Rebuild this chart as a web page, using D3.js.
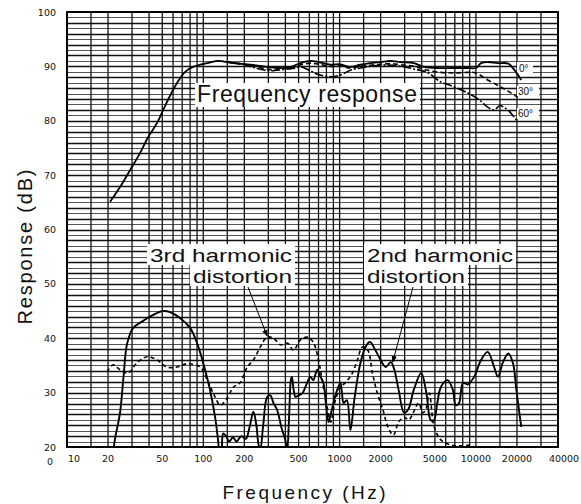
<!DOCTYPE html>
<html>
<head>
<meta charset="utf-8">
<script src="https://cdn.jsdelivr.net/npm/d3@7"></script>
<style>
  body { margin: 0; background: #fff; }
  text { font-family: "Liberation Sans", Arial, sans-serif; fill: #111; }
  .tick-label { font-family: "DejaVu Sans", sans-serif; font-size: 9.5px; }
</style>
</head>
<body>
<div id="chart"></div>
<script>
// frequency response, [Hz, dB]
var resp0 = [[20.7,65.1],[24.5,67.8],[29,70.9],[34.4,74.1],[39.4,77.0],[45.8,79.6],[50.8,82.0],[57,84.6],[64,86.9],[73.6,89.0],[84,89.9],[107,90.6],[127,91.0],[166,90.6],[222,90.3],[294,89.9],[388,89.7],[437,89.9],[516,90.6],[610,91.0],[700,90.8],[860,90.3],[1000,90.4],[1200,89.9],[1420,90.3],[1670,90.6],[2000,90.8],[2370,91.0],[2800,90.8],[3500,90.6],[4170,89.9],[4940,89.7],[6900,89.7],[8700,89.7],[10000,89.7],[10900,90.6],[12200,90.8],[14500,90.6],[17300,90.5],[19200,89.3],[21500,87.5]];
var resp30 = [[150,90.8],[200,90.4],[250,89.9],[310,89.4],[370,89.6],[450,89.8],[520,90.3],[610,90.6],[700,90.4],[860,90.0],[1000,90.1],[1200,89.7],[1420,90.0],[1670,90.2],[2000,90.4],[2370,90.5],[2800,90.3],[3500,90.0],[4400,89.3],[5530,88.9],[7000,88.8],[8700,88.9],[10000,88.8],[12200,87.5],[15000,86.3],[17300,85.4],[20300,84.3]];
var resp60 = [[150,90.8],[200,90.3],[250,89.6],[300,89.2],[350,89.3],[450,89.6],[520,89.9],[610,89.2],[700,88.5],[860,88.1],[1013,88.4],[1200,89.3],[1420,89.7],[1670,90.0],[2000,90.2],[2500,90.2],[3000,89.9],[3500,89.5],[4400,88.9],[5530,87.1],[6200,86.7],[8700,85.1],[10500,83.9],[12200,82.5],[13600,82.0],[15000,82.8],[16000,82.5],[17300,81.9],[20300,79.8]];

// distortion, [Hz, dB]
var harm2 = [[21.8,19],[22.5,21.5],[24.5,26.3],[26,33],[27.6,39.0],[30.6,41.9],[36.2,43.2],[42.8,44.3],[50.8,45.0],[57,44.8],[67.7,43.7],[80,41.9],[90,39.1],[100,35.4],[112,30.5],[122,25.5],[129,20.7],[132,18],[136,19],[140,22.5],[147,22.0],[155,21.0],[165,21.8],[175,21.0],[190,22.0],[205,21.5],[220,24],[233,26.5],[245,24],[254,20.5],[262,19.5],[275,24],[294,29.2],[310,29.5],[328,28],[348,26.8],[375,23.5],[400,21.3],[412,19],[425,25],[440,32.5],[447,32.9],[460,30.5],[475,29.2],[500,29.5],[534,29.9],[560,31.0],[610,32.9],[640,32.3],[685,34.2],[720,33],[760,31.8],[800,27],[830,24.6],[860,26],[900,28.1],[960,30.5],[1013,31.8],[1040,30],[1070,28.1],[1130,28.6],[1200,23.1],[1290,29.2],[1420,35.4],[1550,38.4],[1670,39.3],[1830,37.8],[2000,36.0],[2180,34.7],[2370,35.6],[2500,34.5],[2710,30.5],[2970,26.3],[3200,27],[3500,30.5],[3970,33.6],[4330,29.9],[4650,25.0],[4900,24.8],[5200,28],[5530,31.0],[6200,32.3],[6770,30.5],[7100,27.7],[7500,28],[8040,31.8],[8700,31.5],[9700,32.9],[10900,36.0],[12200,37.5],[13600,34.7],[14500,32.9],[15800,35.6],[17300,37.2],[18700,35.4],[19800,30.5],[21500,23.7]];
var harm3 = [[19.7,33.8],[21.8,35.1],[24.5,34.2],[28,33.6],[32.7,35.5],[38.7,36.6],[45.8,36.0],[54,34.7],[64,34.7],[76,35.3],[95,34.7],[107,32.3],[122,29.2],[133,27.7],[150,29.0],[166,31.0],[186,31.8],[210,34.7],[233,36.0],[262,38.4],[294,40.2],[328,40.0],[368,38.8],[415,39.1],[458,37.8],[516,39.7],[580,40.2],[640,39.3],[700,36.0],[750,31.8],[810,27.4],[860,24.6],[930,28.6],[1013,31.0],[1100,31.8],[1240,33.6],[1350,36.0],[1470,38.4],[1610,37.8],[1740,33.6],[1890,29.9],[2080,26.8],[2260,23.7],[2480,22.2],[2710,24.6],[2970,25.5],[3220,25.0],[3500,26.5],[3800,28.1],[4080,26.3],[4300,27],[4550,29.9],[4940,23.7],[5530,21.3],[6500,20.4],[7500,20.2],[9100,20.3],[10000,19.9]];

var xTicks = [10, 20, 50, 100, 200, 500, 1000, 2000, 5000, 10000, 20000, 40000];
var yTicks = [20, 30, 40, 50, 60, 70, 80, 90, 100];
var gridMult = [1, 1.5, 2, 3, 4, 5, 6, 7, 8, 9];

var svgWidth = 581, svgHeight = 504;
var margin = { top: 12, left: 67, right: 23, bottom: 57 };
var w = svgWidth - margin.left - margin.right;
var h = svgHeight - margin.top - margin.bottom;

var svg = d3.select("#chart").append("svg")
    .attr("width", svgWidth)
    .attr("height", svgHeight);

var xScale = d3.scaleLog().domain([10, 40000]).range([0, w]);
var yScale = d3.scaleLinear().domain([20, 100]).range([h, 0]);

var g = svg.append("g")
    .attr("transform", `translate(${margin.left}, ${margin.top})`);

g.append("clipPath").attr("id", "plotclip")
  .append("rect").attr("x", 0).attr("y", 0).attr("width", w).attr("height", h);

// log paper grid
var vLines = [];
[10, 100, 1000, 10000].forEach(function (dec) {
    gridMult.forEach(function (m) {
        var f = dec * m;
        if (f > 10 && f < 40000) vLines.push(f);
    });
});

var hLines = d3.range(21, 100, 1);

g.selectAll(".hgrid").data(hLines).enter().append("line")
    .attr("x1", 0).attr("x2", w)
    .attr("y1", d => Math.round(yScale(d)) + 0.5).attr("y2", d => Math.round(yScale(d)) + 0.5)
    .attr("stroke", (d, i) => i % 2 ? "#111" : "#555")
    .attr("stroke-width", (d, i) => i % 2 ? 1.4 : 1.1);

g.selectAll(".vgrid").data(vLines).enter().append("line")
    .attr("x1", d => xScale(d)).attr("x2", d => xScale(d))
    .attr("y1", 0).attr("y2", h)
    .attr("stroke", "#111")
    .attr("stroke-width", 1.3);

// curves
var line = d3.line()
    .x(d => xScale(d[0]))
    .y(d => yScale(d[1]))
    .curve(d3.curveCatmullRom.alpha(0.5));

// white boxes for labels
function labelBox(x, y, width, height) {
    g.append("rect")
        .attr("x", x - margin.left).attr("y", y - margin.top)
        .attr("width", width).attr("height", height)
        .attr("fill", "#fff");
}
labelBox(195, 83, 225, 24);
labelBox(147, 244, 148, 21);
labelBox(190, 265, 105, 21);
labelBox(364, 244, 152, 21);
labelBox(364, 265, 104, 21);
labelBox(517, 62, 16, 12);
labelBox(517, 86, 22, 11);
labelBox(517, 108, 22, 11);

var curves = g.append("g").attr("clip-path", "url(#plotclip)");

curves.append("path").datum(resp0)
    .attr("d", line).attr("fill", "none")
    .attr("stroke", "#000").attr("stroke-width", 1.8);
curves.append("path").datum(resp30)
    .attr("d", line).attr("fill", "none")
    .attr("stroke", "#000").attr("stroke-width", 1.6)
    .attr("stroke-dasharray", "5,3");
curves.append("path").datum(resp60)
    .attr("d", line).attr("fill", "none")
    .attr("stroke", "#000").attr("stroke-width", 1.6)
    .attr("stroke-dasharray", "9,2,2,2");
curves.append("path").datum(harm2)
    .attr("d", line).attr("fill", "none")
    .attr("stroke", "#000").attr("stroke-width", 1.9);
curves.append("path").datum(harm3)
    .attr("d", line).attr("fill", "none")
    .attr("stroke", "#000").attr("stroke-width", 1.6)
    .attr("stroke-dasharray", "4,3");

// frame
g.append("rect")
    .attr("x", 0).attr("y", 0).attr("width", w).attr("height", h)
    .attr("fill", "none").attr("stroke", "#000").attr("stroke-width", 2);

// annotations
svg.append("text").attr("x", 197).attr("y", 102)
    .attr("font-size", 23).attr("textLength", 220).attr("lengthAdjust", "spacing")
    .text("Frequency response");
svg.append("text").attr("x", 150).attr("y", 262)
    .attr("font-size", 18).attr("textLength", 142).attr("lengthAdjust", "spacingAndGlyphs")
    .text("3rd harmonic");
svg.append("text").attr("x", 193).attr("y", 283)
    .attr("font-size", 18).attr("textLength", 99).attr("lengthAdjust", "spacingAndGlyphs")
    .text("distortion");
svg.append("text").attr("x", 367).attr("y", 262)
    .attr("font-size", 18).attr("textLength", 146).attr("lengthAdjust", "spacingAndGlyphs")
    .text("2nd harmonic");
svg.append("text").attr("x", 367).attr("y", 283)
    .attr("font-size", 18).attr("textLength", 98).attr("lengthAdjust", "spacingAndGlyphs")
    .text("distortion");

svg.append("text").attr("x", 519).attr("y", 72).attr("font-size", 10).text("0°");
svg.append("text").attr("x", 518).attr("y", 95).attr("font-size", 10).text("30°");
svg.append("text").attr("x", 518).attr("y", 117).attr("font-size", 10).text("60°");

// arrows
svg.append("defs").append("marker")
    .attr("id", "arrow").attr("viewBox", "0 0 10 10")
    .attr("refX", 9).attr("refY", 5)
    .attr("markerWidth", 7).attr("markerHeight", 7)
    .attr("orient", "auto")
  .append("path").attr("d", "M0,1 L10,5 L0,9 z").attr("fill", "#000");

var arrows = [
    { from: [248, 287], to: [294, 40.4] },
    { from: [413, 287], to: [2450, 35.6] }
];
svg.selectAll(".arrow").data(arrows).enter().append("line")
    .attr("x1", d => d.from[0]).attr("y1", d => d.from[1])
    .attr("x2", d => margin.left + xScale(d.to[0]))
    .attr("y2", d => margin.top + yScale(d.to[1]))
    .attr("stroke", "#000").attr("stroke-width", 1)
    .attr("marker-end", "url(#arrow)");

// tick labels
svg.selectAll(".ylab").data(yTicks).enter().append("text")
    .attr("class", "tick-label")
    .attr("x", 56)
    .attr("y", d => margin.top + yScale(d) + 3.5)
    .attr("text-anchor", "end")
    .text(d => d);
svg.append("text").attr("class", "tick-label")
    .attr("x", 50).attr("y", 465).attr("text-anchor", "middle").text("0");

svg.selectAll(".xlab").data(xTicks).enter().append("text")
    .attr("class", "tick-label")
    .attr("x", (d, i) => i === 0 ? margin.left + 1 : margin.left + xScale(d) + (i === xTicks.length - 1 ? 6 : 0))
    .attr("y", 462)
    .attr("text-anchor", (d, i) => i === 0 ? "start" : "middle")
    .text(d => d);

// axis titles
svg.append("text")
    .attr("x", 304).attr("y", 499)
    .attr("text-anchor", "middle")
    .attr("font-size", 19).attr("textLength", 163).attr("lengthAdjust", "spacing")
    .text("Frequency (Hz)");

svg.append("text")
    .attr("transform", "translate(32, 247) rotate(-90)")
    .attr("text-anchor", "middle")
    .attr("font-size", 20).attr("textLength", 155).attr("lengthAdjust", "spacing")
    .text("Response (dB)");
</script>
</body>
</html>
